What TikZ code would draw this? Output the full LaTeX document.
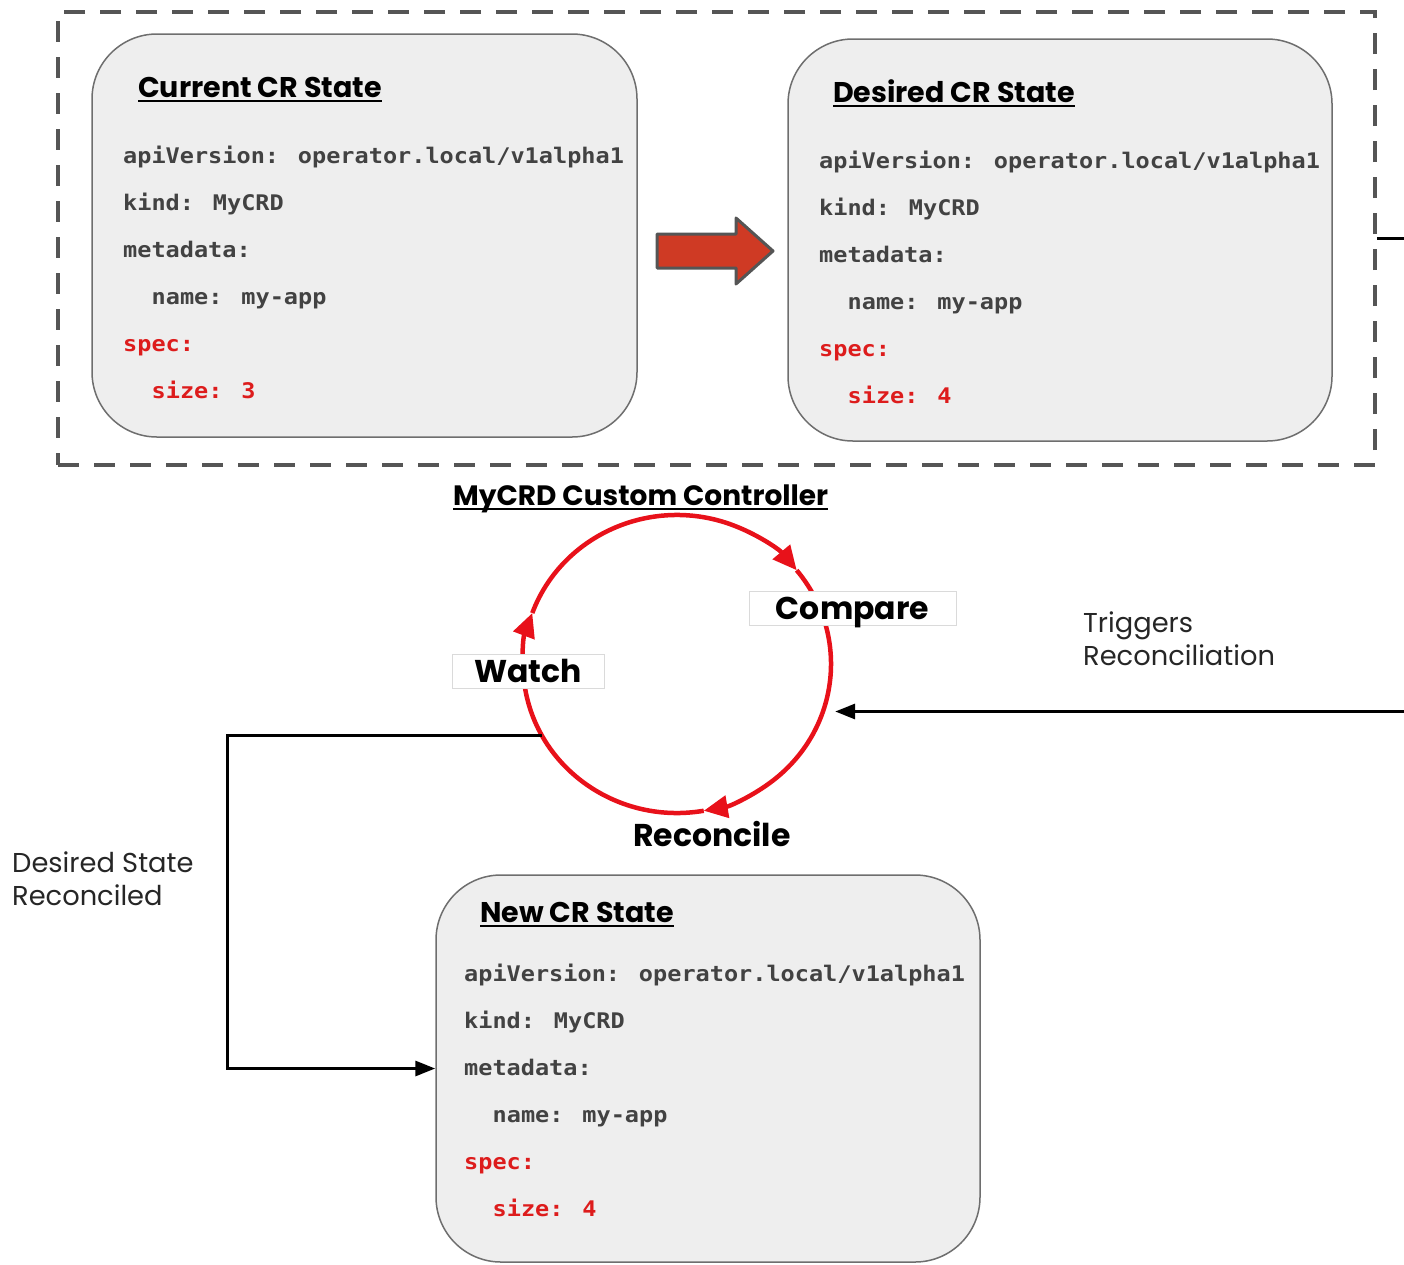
\documentclass[tikz,border=0pt]{standalone}
\usepackage{fontspec}
\setmainfont{Poppins}
\newfontfamily\codefont[FakeStretch=1.095]{DejaVu Sans Mono}
\usetikzlibrary{arrows.meta,calc,shapes.geometric}

\definecolor{codegray}{HTML}{424242}
\definecolor{codered}{HTML}{DD1C1C}
\definecolor{boxfill}{HTML}{EEEEEE}
\definecolor{boxline}{HTML}{6E6E6E}
\definecolor{framegray}{HTML}{555555}
\definecolor{loopred}{HTML}{E8111A}
\definecolor{flowred}{HTML}{CF3A24}
\definecolor{tagline}{HTML}{DADADA}

\tikzset{
  crbox/.style={draw=boxline, line width=1.5pt, fill=boxfill,
    rounded corners=65pt, inner sep=0pt},
  code/.style={anchor=base west, inner sep=0pt,
    font=\codefont\bfseries\fontsize{21.5}{21.5}\selectfont},
  headtitle/.style={anchor=base west, inner sep=0pt,
    font=\bfseries\fontsize{28.5}{28.5}\selectfont},
  uline/.style={line width=2pt, black},
  phase/.style={inner sep=0pt, font=\bfseries\fontsize{31.5}{31.5}\selectfont},
  tagbox/.style={phase, fill=white, draw=tagline, line width=0.8pt,
    minimum height=34pt, text height=22pt, text depth=0pt},
  note/.style={anchor=base west, inner sep=0pt, align=left,
    font=\fontsize{27.3}{33}\selectfont, text=black!85},
  cyc/.style={draw=loopred, line width=4.5pt,
    -{Triangle[length=24pt,width=22pt]}},
  conn/.style={draw=black, line width=3pt,
    -{Triangle[length=20pt,width=15pt]}},
}

% YAML body of a custom resource: #1 prefix, #2 left x, #3 first baseline (down), #4 size
\newcommand\yamlblock[4]{%
  \node[code, text=codegray] (#1-api)  at (#2, -#3)       {apiVersion: operator.local/v1alpha1};
  \node[code, text=codegray] (#1-kind) at (#2, -#3-47)    {kind: MyCRD};
  \node[code, text=codegray] (#1-meta) at (#2, -#3-94)    {metadata:};
  \node[code, text=codegray] (#1-name) at (#2+28.5, -#3-141) {name: my-app};
  \node[code, text=codered]  (#1-spec) at (#2, -#3-188)   {spec:};
  \node[code, text=codered]  (#1-size) at (#2+28.5, -#3-235) {size: #4};
}
% underlined heading: #1 extra options, #2 name, #3 x, #4 baseline (down), #5 text
\newcommand\heading[5][]{%
  \node[headtitle, #1] (#2) at (#3, -#4) {#5};
  \draw[uline] ([yshift=-3.5pt]#2.base west) -- ([yshift=-3.5pt]#2.base east);
}

\begin{document}
\begin{tikzpicture}[x=1pt, y=1pt]
  \useasboundingbox (0,0) rectangle (1404,-1264);

  % dashed group holding the two states
  \node[draw=framegray, line width=4pt, dash pattern=on 21pt off 15pt,
        minimum width=1317pt, minimum height=453pt, inner sep=0pt]
        (frame) at (716.5,-238.5) {};

  % current state
  \node[crbox, minimum width=545pt, minimum height=403pt] (cur) at (364.5,-235.5) {};
  \heading{curtitle}{138}{97}{Current CR State}
  \yamlblock{cur}{123}{163}{3}

  % desired state
  \node[crbox, minimum width=544pt, minimum height=402pt] (des) at (1060,-240) {};
  \heading{destitle}{833}{102}{Desired CR State}
  \yamlblock{des}{819}{168}{4}

  % block arrow between the two states
  \filldraw[fill=flowred, draw=framegray, line width=3pt, line join=round]
    (657,-234) -- (736,-234) -- (736,-218) -- (773,-251)
    -- (736,-284) -- (736,-268) -- (657,-268) -- cycle;

  % controller loop
  \heading[font=\bfseries\fontsize{28}{28}\selectfont]{ctrltitle}{453}{505}{MyCRD Custom Controller}
  \coordinate (C) at (677,-664);
  \node[ellipse, minimum width=308pt, minimum height=298pt, inner sep=0pt] (loop) at (C) {};
  \draw[cyc] ([shift={(160:154pt and 149pt)}]C)
    arc[start angle=160, end angle=39, x radius=154pt, y radius=149pt];
  \draw[cyc] ([shift={(39:154pt and 149pt)}]C)
    arc[start angle=39, end angle=-80, x radius=154pt, y radius=149pt];
  \draw[cyc] ([shift={(-80:154pt and 149pt)}]C)
    arc[start angle=-80, end angle=-200, x radius=154pt, y radius=149pt];

  \node[tagbox, minimum width=207pt] (compare) at (852.5,-608) {Compare};
  \node[tagbox, minimum width=152pt] (watch) at (528,-671) {Watch};
  \node[phase, anchor=base] (reconcile) at (712,-846) {Reconcile};

  % new state
  \node[crbox, minimum width=544pt, minimum height=387pt] (new) at (708,-1068.5) {};
  \heading{newtitle}{480}{922}{New CR State}
  \yamlblock{new}{464}{981}{4}

  % connectors
  \draw[conn] (frame.east) -- ++(50pt,0) |- ([xshift=12pt]loop.-18);
  \draw[conn] (loop.208) -- ++(-314pt,0) |- (new.west);

  % the base anchor of a two-line note sits on its last line
  \node[note] (trig) at (1083,-665) {Triggers\\Reconciliation};
  \node[note] (done) at (12,-905) {Desired State\\Reconciled};
\end{tikzpicture}
\end{document}
